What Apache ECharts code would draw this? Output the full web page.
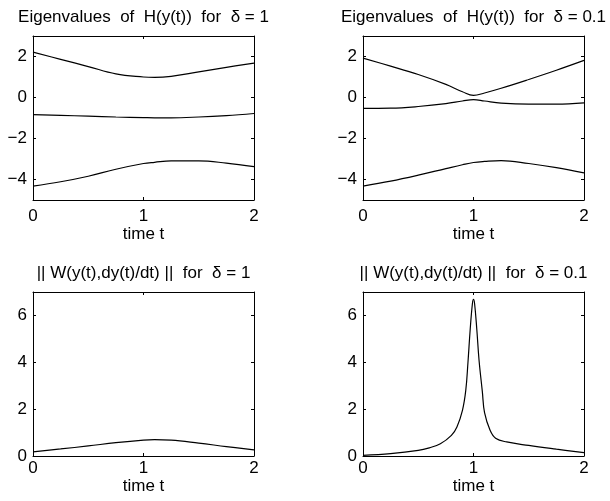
<!DOCTYPE html>
<html>
<head>
<meta charset="utf-8">
<script src="https://cdn.jsdelivr.net/npm/echarts@6/dist/echarts.min.js"></script>
<style>
    html, body { margin: 0; padding: 0; background: #fff; }
    #chart { width: 610px; height: 501px; }
</style>
</head>
<body>
<div id="chart"></div>
<script>
// eigenvalues, delta = 1
var tEig1 = [0, 0.25, 0.5, 0.75, 1.0, 1.1, 1.25, 1.5, 1.75, 2];
var eig1Up = [2.21, 1.86, 1.51, 1.15, 1.0, 0.98, 1.03, 1.25, 1.47, 1.68];
var eig1Mid = [-0.84, -0.87, -0.91, -0.95, -0.98, -0.99, -0.99, -0.95, -0.88, -0.78];
var eig1Low = [-4.32, -4.11, -3.84, -3.5, -3.22, -3.16, -3.09, -3.09, -3.2, -3.37];

// eigenvalues, delta = 0.1
var tEig2 = [0, 0.25, 0.5, 0.75, 0.9, 1.0, 1.1, 1.25, 1.5, 1.75, 2];
var eig2Up = [1.92, 1.53, 1.12, 0.64, 0.28, 0.1, 0.22, 0.45, 0.88, 1.33, 1.81];
var eig2Mid = [-0.53, -0.52, -0.44, -0.3, -0.17, -0.1, -0.17, -0.27, -0.32, -0.32, -0.26];
var eig2Low = [-4.32, -4.08, -3.79, -3.47, -3.28, -3.17, -3.12, -3.08, -3.22, -3.42, -3.68];

// ||W|| for delta = 1
var tW1 = [0, 0.25, 0.5, 0.75, 1.0, 1.1, 1.25, 1.5, 1.75, 2];
var w1 = [0.18, 0.3, 0.43, 0.57, 0.68, 0.7, 0.68, 0.55, 0.4, 0.26];

// ||W|| for delta = 0.1
var tW2 = [0, 0.25, 0.5, 0.6, 0.7, 0.8, 0.85, 0.9, 0.93, 0.95, 0.97, 0.99, 1.0, 1.01, 1.03, 1.05, 1.08, 1.1, 1.15, 1.2, 1.3, 1.5, 1.75, 2];
var w2 = [0.03, 0.1, 0.24, 0.35, 0.52, 0.88, 1.24, 1.95, 2.8, 4.0, 5.4, 6.5, 6.69, 6.5, 5.4, 4.1, 2.75, 1.85, 1.1, 0.76, 0.6, 0.45, 0.29, 0.14];

var xTicks = [0, 1, 2];
var eigTicks = [-4, -2, 0, 2];
var wTicks = [0, 2, 4, 6];

var titles = [
    "Eigenvalues  of  H(y(t))  for  \u03b4 = 1",
    "Eigenvalues  of  H(y(t))  for  \u03b4 = 0.1",
    "|| W(y(t),dy(t)/dt) ||  for  \u03b4 = 1",
    "|| W(y(t),dy(t)/dt) ||  for  \u03b4 = 0.1"
];

var FONT = '"Liberation Sans", Arial, sans-serif';
var FS = 17;

var panels = [
    {left: 33, top: 36, ymin: -5, ymax: 3, yticks: eigTicks, lm: 8, ng: 20},
    {left: 363, top: 36, ymin: -5, ymax: 3, yticks: eigTicks, lm: 8, ng: 20},
    {left: 33, top: 292, ymin: 0, ymax: 7, yticks: wTicks, lm: 4, ng: 15},
    {left: 363, top: 292, ymin: 0, ymax: 7, yticks: wTicks, lm: 4, ng: 15}
];
var W = 221, H = 164;

function zip(xs, ys) {
    return xs.map(function (x, i) { return [x, ys[i]]; });
}

var grid = [], xAxis = [], yAxis = [], graphic = [];

panels.forEach(function (p, i) {
    grid.push({left: p.left, top: p.top, width: W, height: H, outerBoundsMode: 'none'});
    var line = {show: true, onZero: false, lineStyle: {color: '#000', width: 1}};
    // bottom x axis with labels
    xAxis.push({
        gridIndex: i, type: 'value', position: 'bottom', min: 0, max: 2,
        axisLine: line,
        axisTick: {show: true, inside: true, length: 3, customValues: xTicks, lineStyle: {color: '#000'}},
        axisLabel: {color: '#000', fontSize: FS, fontFamily: FONT, margin: p.lm, customValues: xTicks},
        splitLine: {show: false},
        name: 'time t', nameLocation: 'middle', nameGap: p.ng,
        nameTextStyle: {color: '#000', fontSize: FS, fontFamily: FONT}
    });
    // top mirror
    xAxis.push({
        gridIndex: i, type: 'value', position: 'top', min: 0, max: 2,
        axisLine: line,
        axisTick: {show: true, inside: true, length: 3, customValues: xTicks, lineStyle: {color: '#000'}},
        axisLabel: {show: false},
        splitLine: {show: false}
    });
    yAxis.push({
        gridIndex: i, type: 'value', position: 'left', min: p.ymin, max: p.ymax,
        axisLine: line,
        axisTick: {show: true, inside: true, length: 3, customValues: p.yticks, lineStyle: {color: '#000'}},
        axisLabel: {color: '#000', fontSize: FS, fontFamily: FONT, margin: 6, customValues: p.yticks,
            formatter: function (v) { return v < 0 ? '\u2212' + Math.abs(v) : String(v); }},
        splitLine: {show: false}
    });
    yAxis.push({
        gridIndex: i, type: 'value', position: 'right', min: p.ymin, max: p.ymax,
        axisLine: line,
        axisTick: {show: true, inside: true, length: 3, customValues: p.yticks, lineStyle: {color: '#000'}},
        axisLabel: {show: false},
        splitLine: {show: false}
    });
    graphic.push({
        type: 'text',
        x: p.left + W / 2,
        y: p.top - 19,
        style: {
            text: titles[i], fill: '#000', font: FS + 'px ' + FONT,
            align: 'center', verticalAlign: 'middle'
        }
    });
});

function lineSeries(panel, data) {
    return {
        type: 'line', xAxisIndex: panel * 2, yAxisIndex: panel * 2,
        data: data, showSymbol: false, smooth: 0.4, silent: true,
        lineStyle: {color: '#000', width: 1.2}
    };
}

var series = [
    lineSeries(0, zip(tEig1, eig1Up)),
    lineSeries(0, zip(tEig1, eig1Mid)),
    lineSeries(0, zip(tEig1, eig1Low)),
    lineSeries(1, zip(tEig2, eig2Up)),
    lineSeries(1, zip(tEig2, eig2Mid)),
    lineSeries(1, zip(tEig2, eig2Low)),
    lineSeries(2, zip(tW1, w1)),
    lineSeries(3, zip(tW2, w2))
];

var myChart = echarts.init(document.getElementById("chart"));
myChart.setOption({
    animation: false,
    backgroundColor: '#fff',
    grid: grid,
    xAxis: xAxis,
    yAxis: yAxis,
    graphic: graphic,
    series: series
});
</script>
</body>
</html>
